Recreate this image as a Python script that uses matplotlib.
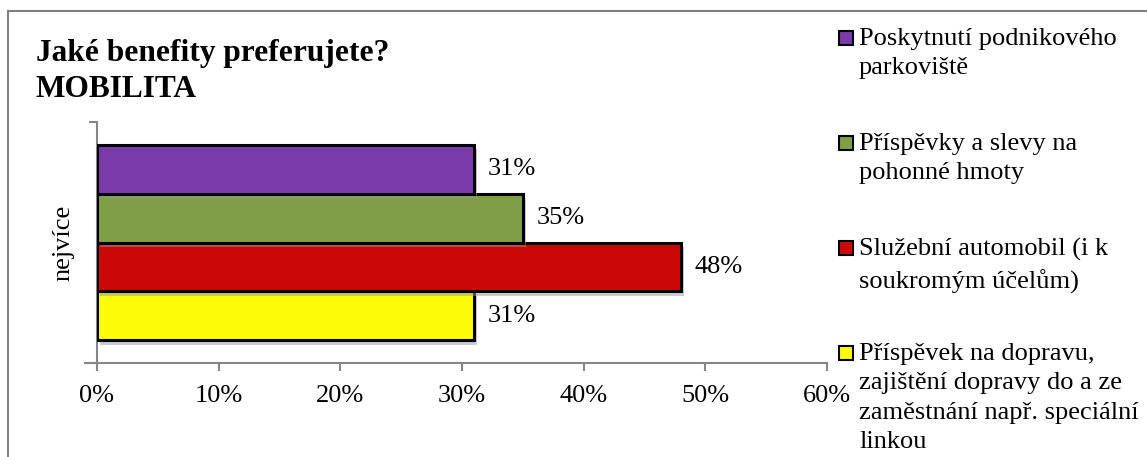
import numpy as np
import matplotlib.pyplot as plt
import matplotlib.patches as mpatches
import matplotlib.patheffects as pe
from matplotlib.ticker import PercentFormatter

plt.rcParams['font.family'] = ['Liberation Serif', 'DejaVu Serif']

# data (bottom-to-top order as drawn in the chart)
category = "nejvíce"
series_names = [
    "Příspěvek na dopravu,\nzajištění dopravy do a ze\nzaměstnání např. speciální\nlinkou",
    "Služební automobil (i k\nsoukromým účelům)",
    "Příspěvky a slevy na\npohonné hmoty",
    "Poskytnutí podnikového\nparkoviště",
]
values = [0.31, 0.48, 0.35, 0.31]
colors = ["#FCFC06", "#CC0707", "#809E48", "#7A3AAA"]
title = "Jaké benefity preferujete?\nMOBILITA"
x_ticks = [0, 0.1, 0.2, 0.3, 0.4, 0.5, 0.6]

W, H = 1147, 457
fs = 19
fig = plt.figure(figsize=(W / 100, H / 100), dpi=100)

# outer chart border (runs off the right and bottom edges)
fig.patches.append(mpatches.Rectangle((8 / W, -0.1), 1.2, 1.1 - 11 / H,
                                      transform=fig.transFigure, fill=False,
                                      edgecolor="#7f7f7f", lw=1.5))

ax = fig.add_axes([97 / W, 1 - 363 / H, (827 - 97) / W, (363 - 122) / H])

n = len(values)
bh = 0.203
offsets = (np.arange(n) - (n - 1) / 2) * bh
bars = ax.barh(offsets, values, height=bh, color=colors, edgecolor="black",
               linewidth=2.2, zorder=3)
for b in bars:
    b.set_path_effects([pe.SimplePatchShadow(offset=(2, -3), shadow_rgbFace="#999999", alpha=0.5),
                        pe.Normal()])

for y, v in zip(offsets, values):
    ax.annotate(f"{v * 100:.0f}%", (v, y), xytext=(10, 0), textcoords="offset points",
                va="center", ha="left", fontsize=fs)

ax.set_xlim(0, 0.6)
ax.set_ylim(-0.5, 0.5)
ax.set_xticks(x_ticks)
ax.xaxis.set_major_formatter(PercentFormatter(1.0, decimals=0))
ax.set_yticks([0])
ax.set_yticklabels([category], rotation=90, va="center")
ax.set_yticks([-0.5, 0.5], minor=True)
ax.tick_params(axis="y", which="major", length=0, pad=16, labelsize=fs)
ax.tick_params(axis="y", which="minor", length=6, color="#868686", width=1.5)
ax.tick_params(axis="x", length=6, color="#868686", width=1.5, labelsize=fs, pad=10)
for s in ["top", "right"]:
    ax.spines[s].set_visible(False)
for s in ["left", "bottom"]:
    ax.spines[s].set_color("#868686")
    ax.spines[s].set_linewidth(1.5)
ax.spines["bottom"].set_bounds(-0.01, 0.6)

fig.text(36 / W, 1 - 39 / H, title, fontsize=22.6, fontweight="bold",
         va="top", ha="left", linespacing=1.3)

# legend, listed top-to-bottom
for i, k in enumerate(range(n - 1, -1, -1)):
    mid = 38 + i * 105  # centre of the first text line
    fig.patches.append(mpatches.Rectangle((839 / W, 1 - (mid + 7) / H), 14 / W, 14 / H,
                                          transform=fig.transFigure, facecolor=colors[k],
                                          edgecolor="black", lw=1.5))
    fig.text(859 / W, 1 - (mid - 10) / H, series_names[k], fontsize=fs, va="top", ha="left",
             linespacing=1.43)

fig.savefig("out.png", dpi=100)
